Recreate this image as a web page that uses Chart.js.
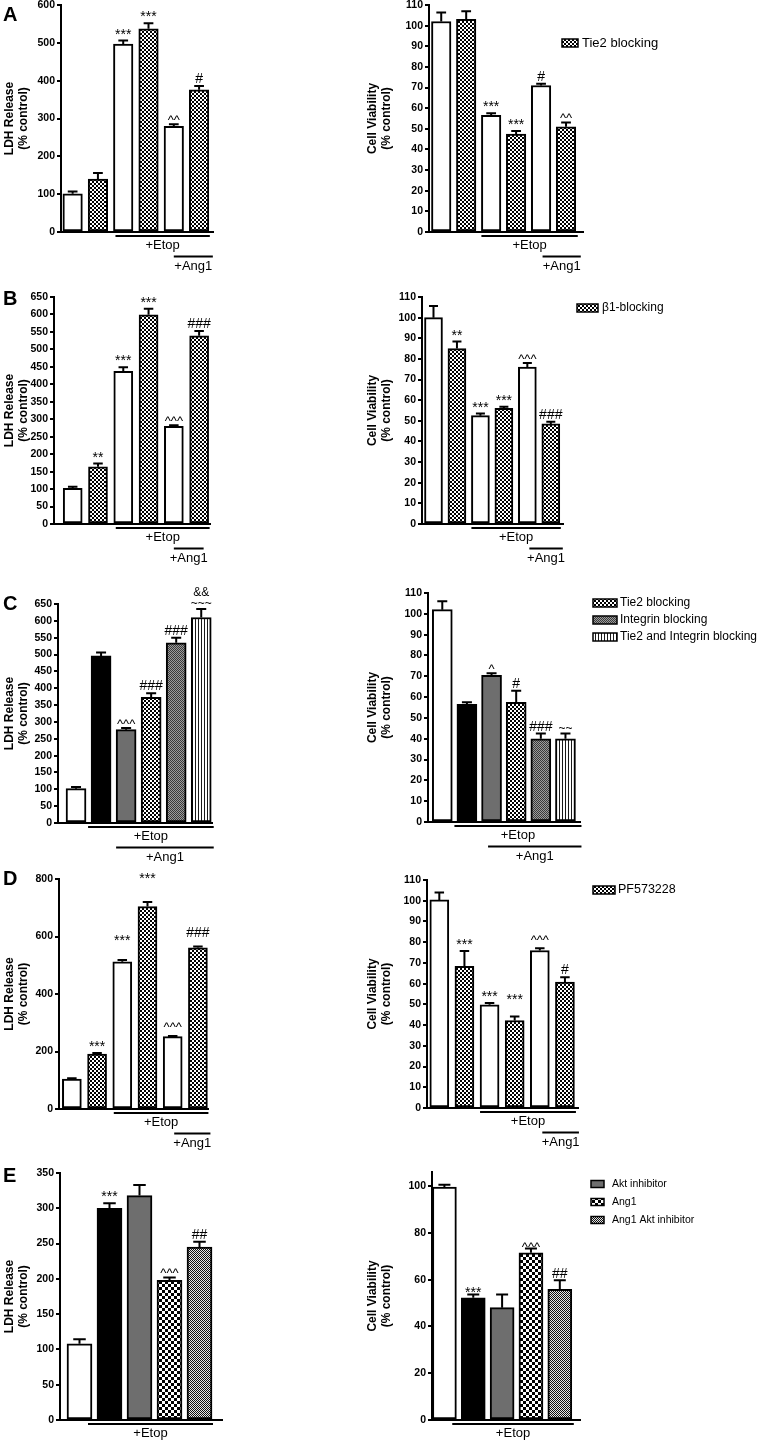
<!DOCTYPE html>
<html>
<head>
<meta charset="utf-8">
<title>LDH release and cell viability</title>
<script src="https://cdn.jsdelivr.net/npm/chart.js@4.4.1/dist/chart.umd.min.js"></script>
<style>
  html, body { margin: 0; padding: 0; background: #fff; }
  body { position: relative; width: 762px; height: 1440px; overflow: hidden; }
  canvas { position: absolute; }
</style>
</head>
<body>
<script>
// ---------- Panel A: Tie2 blocking ----------
const aLabels = ["Control", "Tie2 blocking", "Etop", "Etop + Tie2 blocking", "Etop + Ang1", "Etop + Ang1 + Tie2 blocking"];
const aLdh = [101, 140, 497, 537, 279, 376];
const aLdhErr = [6, 16, 9, 15, 6, 10];
const aLdhSig = ["", "", "***", "***", "^^", "#"];
const aVia = [102, 103, 56.5, 47.5, 71, 51];
const aViaErr = [4.4, 4, 1.1, 1.4, 0.8, 2.1];
const aViaSig = ["", "", "***", "***", "#", "^^"];
const aGroups = [["+Etop", 2, 5], ["+Ang1", 4, 5]];
const aLegend = ["Tie2 blocking"];

// ---------- Panel B: beta1 integrin blocking ----------
const bLabels = ["Control", "β1-blocking", "Etop", "Etop + β1-blocking", "Etop + Ang1", "Etop + Ang1 + β1-blocking"];
const bLdh = [102, 164, 437, 599, 280, 539];
const bLdhErr = [5, 9, 12, 17, 3, 14];
const bLdhSig = ["", "**", "***", "***", "^^^", "###"];
const bVia = [100, 85, 52.5, 56, 76, 48.5];
const bViaErr = [5.6, 3.4, 1, 0.8, 2, 1];
const bViaSig = ["", "**", "***", "***", "^^^", "###"];
const bGroups = [["+Etop", 2, 5], ["+Ang1", 4, 5]];
const bLegend = ["β1-blocking"];

// ---------- Panel C: Tie2 / integrin blocking ----------
const cLabels = ["Control", "Etop", "Etop + Ang1", "Etop + Ang1 + Tie2 blocking", "Etop + Ang1 + Integrin blocking", "Etop + Ang1 + Tie2 and Integrin blocking"];
const cLdh = [102, 496, 277, 373, 535, 610];
const cLdhErr = [5, 10, 5, 12, 15, 25];
const cLdhSig = ["", "", "^^^", "###", "###", "&&\n~~~"];
const cVia = [102, 56.5, 70.5, 57.5, 40, 40];
const cViaErr = [4, 1, 1, 5.5, 2.5, 2.5];
const cViaSig = ["", "", "^", "#", "###", "~~"];
const cGroups = [["+Etop", 1, 5], ["+Ang1", 2, 5]];
const cLegend = ["Tie2 blocking", "Integrin blocking", "Tie2 and Integrin blocking"];

// ---------- Panel D: PF573228 ----------
const dLabels = ["Control", "PF573228", "Etop", "Etop + PF573228", "Etop + Ang1", "Etop + Ang1 + PF573228"];
const dLdh = [104, 191, 512, 704, 252, 561];
const dLdhErr = [3, 4, 6, 16, 2, 4];
const dLdhSig = ["", "***", "***", "***", "^^^", "###"];
const dVia = [100.4, 68.3, 49.8, 42.2, 76, 60.7];
const dViaErr = [3.6, 7.5, 0.8, 2, 1.1, 2.4];
const dViaSig = ["", "***", "***", "***", "^^^", "#"];
const dGroups = [["+Etop", 2, 5], ["+Ang1", 4, 5]];
const dLegend = ["PF573228"];

// ---------- Panel E: Akt inhibitor ----------
const eLabels = ["Control", "Etop", "Etop + Akt inhibitor", "Etop + Ang1", "Etop + Ang1 + Akt inhibitor"];
const eLdh = [108, 300, 318, 198, 245];
const eLdhErr = [6.5, 7, 15, 4, 7.5];
const eLdhSig = ["", "***", "", "^^^", "##"];
const eVia = [99.6, 52.2, 48, 71.5, 55.8];
const eViaErr = [1, 1.4, 5.6, 1.8, 3.9];
const eViaSig = ["", "***", "", "^^^", "##"];
const eGroups = [["+Etop", 1, 4]];
const eLegend = ["Akt inhibitor", "Ang1", "Ang1 Akt inhibitor"];

// ---------- styles ----------
const FONT = "'Liberation Sans', Arial, Helvetica, sans-serif";
Chart.defaults.font.family = FONT;
Chart.defaults.color = "#000";

function checker(cell, a, b) {
  const c = document.createElement("canvas");
  c.width = c.height = cell * 2;
  const g = c.getContext("2d");
  g.fillStyle = b;
  g.fillRect(0, 0, c.width, c.height);
  g.fillStyle = a;
  g.fillRect(0, 0, cell, cell);
  g.fillRect(cell, cell, cell, cell);
  return g.createPattern(c, "repeat");
}

function vstripes(period, line, a, b) {
  const c = document.createElement("canvas");
  c.width = period;
  c.height = 1;
  const g = c.getContext("2d");
  g.fillStyle = b;
  g.fillRect(0, 0, period, 1);
  g.fillStyle = a;
  g.fillRect(0, 0, line, 1);
  return g.createPattern(c, "repeat");
}

const FILLS = {
  white: "#ffffff",
  black: "#000000",
  gray: "#6e6e6e",
  check: checker(2, "#000000", "#ffffff"),
  checkBig: checker(3, "#000000", "#ffffff"),
  checkFine: checker(1, "#111111", "#e6e6e6"),
  grayFine: checker(1, "#3a3a3a", "#9c9c9c"),
  stripes: vstripes(3, 1, "#1a1a1a", "#ffffff")
};

const pairFills = ["white", "check", "white", "check", "white", "check"];
const cFills = ["white", "black", "gray", "check", "grayFine", "stripes"];
const eFills = ["white", "black", "gray", "checkBig", "checkFine"];

function markStyle(s) {
  if (s.includes("#")) return { font: "14px " + FONT, lift: 3 };
  if (s.includes("*")) return { font: "14px " + FONT, lift: 2 };
  if (s.includes("^")) return { font: "13px " + FONT, lift: 0 };
  return { font: "12px " + FONT, lift: 2 };
}

// error bars, significance marks, group lines, legend and panel letter
function extras(p) {
  return {
    id: "extras",
    afterDatasetsDraw(chart) {
      const ctx = chart.ctx;
      const y = chart.scales.y;
      const bars = chart.getDatasetMeta(0).data;
      const area = chart.chartArea;
      ctx.save();
      ctx.strokeStyle = "#000";
      ctx.fillStyle = "#000";
      ctx.lineWidth = 2;

      bars.forEach((b, i) => {
        const top = y.getPixelForValue(p.values[i] + p.errors[i]);
        const cap = b.width / 4;
        ctx.beginPath();
        ctx.moveTo(b.x, b.y);
        ctx.lineTo(b.x, top);
        ctx.moveTo(b.x - cap, top);
        ctx.lineTo(b.x + cap, top);
        ctx.stroke();

        const lines = (p.marks[i] || "").split("\n").filter(Boolean);
        let base = top - (p.sigShift ? p.sigShift[i] : 0);
        ctx.textAlign = "center";
        ctx.textBaseline = "alphabetic";
        for (let k = lines.length - 1; k >= 0; k--) {
          const s = markStyle(lines[k]);
          ctx.font = s.font;
          ctx.fillText(lines[k], b.x, base - s.lift);
          base -= 11;
        }
      });

      // +Etop / +Ang1 lines under the axis
      p.groups.forEach(([text, first, last], row) => {
        const g = p.grp[row];
        const b0 = bars[first], b1 = bars[last];
        const x0 = b0.x + g[0] * b0.width + g[1];
        const x1 = b1.x + b1.width / 2 + g[2];
        const ly = area.bottom + 4 + row * 20.5;
        ctx.lineWidth = 2;
        ctx.beginPath();
        ctx.moveTo(x0, ly);
        ctx.lineTo(x1, ly);
        ctx.stroke();
        ctx.font = "13px " + FONT;
        ctx.textAlign = "center";
        ctx.textBaseline = "middle";
        ctx.fillText(text, (x0 + x1) / 2, ly + 9.5);
      });

      if (p.legend) {
        const L = p.legend;
        L.items.forEach((t, k) => {
          const cy = L.y + k * L.dy - p.top;
          const sx = L.x - p.left;
          ctx.fillStyle = FILLS[L.fills[k]];
          ctx.fillRect(sx, cy - L.sh / 2, L.sw, L.sh);
          ctx.lineWidth = 1.5;
          ctx.strokeRect(sx, cy - L.sh / 2, L.sw, L.sh);
          ctx.fillStyle = "#000";
          ctx.font = L.font + "px " + FONT;
          ctx.textAlign = "left";
          ctx.textBaseline = "middle";
          ctx.fillText(t, L.tx - p.left, cy);
        });
      }

      if (p.letter) {
        ctx.fillStyle = "#000";
        ctx.font = "bold 20px " + FONT;
        ctx.textAlign = "left";
        ctx.textBaseline = "alphabetic";
        ctx.fillText(p.letter, 3 - p.left, p.letterY - p.top);
      }
      ctx.restore();
    }
  };
}

function drawPanel(p) {
  const canvas = document.createElement("canvas");
  canvas.width = p.w;
  canvas.height = p.h;
  canvas.style.left = p.left + "px";
  canvas.style.top = p.top + "px";
  document.body.appendChild(canvas);

  new Chart(canvas, {
    type: "bar",
    data: {
      labels: p.labels,
      datasets: [{
        data: p.values.map((v, i) => ({ x: i, y: v })),
        backgroundColor: p.fills.map(k => FILLS[k]),
        borderColor: "#000",
        borderWidth: 2,
        borderSkipped: false,
        barThickness: p.bar
      }]
    },
    options: {
      responsive: false,
      animation: false,
      devicePixelRatio: 1,
      layout: { padding: { top: p.yTop - p.top, right: p.left + p.w - p.xEnd, bottom: 0, left: 0 } },
      plugins: { legend: { display: false }, tooltip: { enabled: false } },
      scales: {
        x: {
          type: "linear",
          offset: false,
          min: p.xMin,
          max: p.xMax,
          ticks: { display: false },
          grid: { display: false },
          border: { color: "#000", width: 2 },
          afterFit(s) { s.height = p.top + p.h - p.yBot; }
        },
        y: {
          min: 0,
          max: p.max,
          ticks: { stepSize: p.step, includeBounds: false, padding: 2, color: "#000", font: { size: 10.5, weight: "bold" } },
          grid: { drawOnChartArea: false, color: "#000", lineWidth: 2, tickLength: 4 },
          border: { color: "#000", width: 2 },
          title: {
            display: true,
            text: p.yTitle,
            color: "#000",
            font: { size: 12, weight: "bold", lineHeight: 1.2 },
            padding: { top: p.titlePad, bottom: 0 }
          },
          afterFit(s) { s.width = p.axisX - p.left; }
        }
      }
    },
    plugins: [extras(p)]
  });
}

const LEFT = { left: 0, w: 240, yTitle: ["LDH Release", "(% control)"], titlePad: 2 };
const RIGHT = { left: 358, w: 404, yTitle: ["Cell Viability", "(% control)"], titlePad: 7 };

const panels = [
  { ...LEFT, letter: "A", letterY: 21, top: -7, h: 290, axisX: 61, xEnd: 213, yTop: 5, yBot: 232,
    xMin: -0.46, xMax: 5.55, bar: 19.5, max: 600, step: 100,
    labels: aLabels, values: aLdh, errors: aLdhErr, marks: aLdhSig, fills: pairFills,
    groups: aGroups, grp: [[-0.5, 2, 1], [0, 0, 4]] },
  { ...RIGHT, top: -7, h: 290, axisX: 429, xEnd: 583, yTop: 5, yBot: 232,
    xMin: -0.49, xMax: 5.68, bar: 19.5, max: 110, step: 10,
    labels: aLabels, values: aVia, errors: aViaErr, marks: aViaSig, fills: pairFills,
    groups: aGroups, grp: [[-0.5, 0, 2], [0, 1.5, 5]],
    legend: { items: aLegend, fills: ["check"], x: 562, y: 43, dy: 17, sw: 16, sh: 8, tx: 582, font: 13 } },

  { ...LEFT, letter: "B", letterY: 305, top: 285, h: 284, axisX: 54, xEnd: 210, yTop: 297, yBot: 524,
    xMin: -0.74, xMax: 5.43, bar: 19, max: 650, step: 50,
    labels: bLabels, values: bLdh, errors: bLdhErr, marks: bLdhSig, fills: pairFills,
    groups: bGroups, grp: [[-0.5, 2, 1], [0, 0, -5]] },
  { ...RIGHT, top: 285, h: 284, axisX: 422, xEnd: 563, yTop: 297, yBot: 524,
    xMin: -0.49, xMax: 5.52, bar: 18, max: 110, step: 10,
    labels: bLabels, values: bVia, errors: bViaErr, marks: bViaSig, fills: pairFills,
    groups: bGroups, grp: [[-0.5, 0, 1], [0, 2, 3]],
    legend: { items: bLegend, fills: ["check"], x: 577, y: 308, dy: 17, sw: 21, sh: 8, tx: 602, font: 12 } },

  { ...LEFT, letter: "C", letterY: 610, top: 580, h: 285, axisX: 58, xEnd: 212, yTop: 604, yBot: 823,
    xMin: -0.72, xMax: 5.43, bar: 20, max: 650, step: 50,
    labels: cLabels, values: cLdh, errors: cLdhErr, marks: cLdhSig, fills: cFills,
    groups: cGroups, grp: [[-0.5, -3, 2.5], [-0.5, 0, 2.5]] },
  { ...RIGHT, top: 580, h: 285, axisX: 428, xEnd: 580, yTop: 593, yBot: 822,
    xMin: -0.58, xMax: 5.59, bar: 20, max: 110, step: 10,
    labels: cLabels, values: cVia, errors: cViaErr, marks: cViaSig, fills: cFills,
    groups: cGroups, grp: [[-0.5, -2.5, 6], [0, -3.5, 6]],
    legend: { items: cLegend, fills: ["check", "grayFine", "stripes"], x: 593, y: 603, dy: 17, sw: 24, sh: 8, tx: 620, font: 12 } },

  { ...LEFT, letter: "D", letterY: 885, top: 866, h: 291, axisX: 59, xEnd: 208, yTop: 879, yBot: 1109,
    xMin: -0.51, xMax: 5.4, bar: 19, max: 800, step: 200,
    labels: dLabels, values: dLdh, errors: dLdhErr, marks: dLdhSig, fills: pairFills,
    sigShift: [0, 0, 13, 17, 5, 7],
    groups: dGroups, grp: [[-0.5, 1, 1], [0, 1.5, 3]] },
  { ...RIGHT, top: 866, h: 291, axisX: 427, xEnd: 578, yTop: 880, yBot: 1108,
    xMin: -0.49, xMax: 5.52, bar: 19, max: 110, step: 10,
    labels: dLabels, values: dVia, errors: dViaErr, marks: dViaSig, fills: pairFills,
    sigShift: [0, 0, 0, 10, 4, 0],
    groups: dGroups, grp: [[-0.5, 0, 1.5], [0, 2.5, 4.5]],
    legend: { items: dLegend, fills: ["check"], x: 593, y: 890, dy: 17, sw: 22, sh: 8, tx: 618, font: 12.5 } },

  { ...LEFT, letter: "E", letterY: 1182, top: 1158, h: 282, axisX: 60, xEnd: 222, yTop: 1173, yBot: 1420,
    xMin: -0.65, xMax: 4.75, bar: 25, max: 350, step: 50,
    labels: eLabels, values: eLdh, errors: eLdhErr, marks: eLdhSig, fills: eFills,
    groups: eGroups, grp: [[-0.5, -9, 1]] },
  { ...RIGHT, top: 1158, h: 282, axisX: 432, xEnd: 580, yTop: 1172, yBot: 1420,
    xMin: -0.43, xMax: 4.7, bar: 24, max: 106, step: 20,
    labels: eLabels, values: eVia, errors: eViaErr, marks: eViaSig, fills: eFills,
    sigShift: [0, -4, 0, -2, -1],
    groups: eGroups, grp: [[-0.5, -9, 2]],
    legend: { items: eLegend, fills: ["gray", "checkBig", "checkFine"], x: 591, y: 1184, dy: 18, sw: 13, sh: 7, tx: 612, font: 10.5 } }
];

panels.forEach(drawPanel);
</script>
</body>
</html>
